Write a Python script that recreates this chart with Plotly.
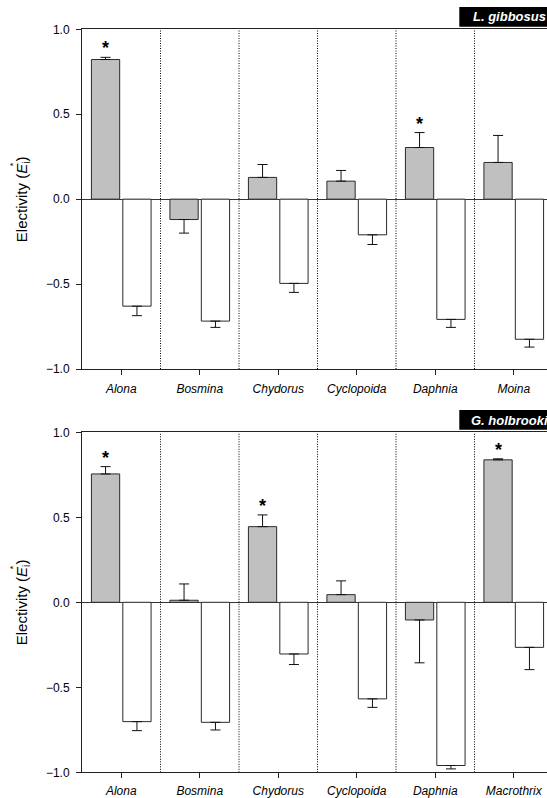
import plotly.graph_objects as go

# ---- data -------------------------------------------------------------
categories_top = ["Alona", "Bosmina", "Chydorus", "Cyclopoida", "Daphnia", "Moina"]
shaded_top = [0.822, -0.120, 0.128, 0.106, 0.304, 0.216]
shaded_top_err = [0.013, 0.080, 0.076, 0.063, 0.088, 0.159]
open_top = [-0.630, -0.718, -0.496, -0.210, -0.708, -0.825]
open_top_err = [0.056, 0.037, 0.053, 0.057, 0.047, 0.046]
shaded_top_sig = [True, False, False, False, True, False]

categories_bottom = ["Alona", "Bosmina", "Chydorus", "Cyclopoida", "Daphnia", "Macrothrix"]
shaded_bottom = [0.755, 0.012, 0.445, 0.045, -0.104, 0.838]
shaded_bottom_err = [0.043, 0.096, 0.069, 0.081, 0.252, 0.006]
open_bottom = [-0.702, -0.706, -0.304, -0.568, -0.960, -0.265]
open_bottom_err = [0.053, 0.045, 0.062, 0.050, 0.020, 0.131]
shaded_bottom_sig = [True, False, True, False, False, True]

panel_titles = ["L. gibbosus", "G. holbrooki"]
y_ticks = [-1.0, -0.5, 0.0, 0.5, 1.0]

# ---- styling ----------------------------------------------------------
FONT = "Liberation Sans, Arial, sans-serif"
W, H = 547, 798
L_MARGIN = 82
PLOT_W = W - L_MARGIN
CAT_PX = 78.5                      # pixel width of one category slot
X_RANGE = [-0.5, -0.5 + PLOT_W / CAT_PX]
GREY = "#c0c0c0"
EDGE = "#2a2a2a"

# vertical pixel extents of the two plot areas (top, bottom)
PANELS = [(29.3, 369.0), (432.3, 772.3)]
X_STANDOFF = [4, 2]


def py2paper(py):
    return 1 - py / H


def px2paper(px):
    return (px - L_MARGIN) / PLOT_W


def one_sided(vals, errs):
    plus = [e if v >= 0 else 0 for v, e in zip(vals, errs)]
    minus = [0 if v >= 0 else e for v, e in zip(vals, errs)]
    return plus, minus


fig = go.Figure()

datasets = [
    (categories_top, shaded_top, shaded_top_err, open_top, open_top_err, shaded_top_sig),
    (categories_bottom, shaded_bottom, shaded_bottom_err, open_bottom, open_bottom_err, shaded_bottom_sig),
]

shapes = []
annotations = []

for k, (cats, sv, se, ov, oe, sig) in enumerate(datasets):
    xa = "x" if k == 0 else f"x{k + 1}"
    ya = "y" if k == 0 else f"y{k + 1}"
    xs = list(range(len(cats)))

    for vals, errs, fill, name in ((sv, se, GREY, "shaded"), (ov, oe, "white", "open")):
        plus, minus = one_sided(vals, errs)
        fig.add_trace(go.Bar(
            x=xs, y=vals, name=name, xaxis=xa, yaxis=ya,
            marker=dict(color=fill, line=dict(color=EDGE, width=1)),
            error_y=dict(type="data", symmetric=False, array=plus, arrayminus=minus,
                         color="#111111", thickness=1, width=5),
            showlegend=False, hoverinfo="skip",
        ))

    # dotted separators between taxa
    for i in range(len(cats) - 1):
        shapes.append(dict(type="line", xref=xa, yref=ya, x0=i + 0.5, x1=i + 0.5,
                           y0=-1, y1=1, line=dict(color="black", width=1, dash="1px,1.5px")))

    # significance asterisks above the shaded bars
    for i, (v, e, s) in enumerate(zip(sv, se, sig)):
        if s:
            annotations.append(dict(xref=xa, yref=ya, x=i - 0.2, y=v + e, text="<b>*</b>",
                                    showarrow=False, yanchor="bottom", yshift=-3,
                                    font=dict(family=FONT, size=18, color="black")))

    top_px, bot_px = PANELS[k]
    # black title tab at the upper right corner
    shapes.append(dict(type="rect", xref="paper", yref="paper",
                       x0=px2paper(459.3), x1=px2paper(W + 10),
                       y0=py2paper(top_px - 2.6), y1=py2paper(top_px - 22.3),
                       fillcolor="black", line=dict(width=0), layer="above"))
    annotations.append(dict(xref="paper", yref="paper", x=px2paper(471 if k == 0 else 469),
                            y=py2paper(top_px - 12.3),
                            xanchor="left", yanchor="middle", showarrow=False,
                            text=f"<b><i>{panel_titles[k]}</i></b>",
                            font=dict(family=FONT, size=13, color="white")))

    # y-axis title, with the asterisk stacked above the subscript
    mid = (top_px + bot_px) / 2
    annotations.append(dict(xref="paper", yref="paper", x=px2paper(22), y=py2paper(mid),
                            xanchor="center", yanchor="middle", showarrow=False, textangle=-90,
                            text="Electivity (<i>E</i><sub>i</sub>)",
                            font=dict(family=FONT, size=15, color="black")))
    annotations.append(dict(xref="paper", yref="paper", x=px2paper(13), y=py2paper(mid - 35),
                            xanchor="center", yanchor="middle", showarrow=False, textangle=-90,
                            text="*", font=dict(family=FONT, size=9, color="black")))

    axis_common = dict(showgrid=False, ticks="outside", ticklen=5, tickwidth=1,
                       tickcolor="#222222", showline=True, linecolor="#222222", linewidth=1,
                       automargin=False)
    x_layout = dict(axis_common, range=X_RANGE, tickmode="array", tickvals=xs,
                    ticktext=cats, tickfont=dict(family=FONT, size=12, color="black", style="italic"),
                    mirror=True, zeroline=False, ticklabelstandoff=X_STANDOFF[k],
                    anchor=ya)
    y_layout = dict(axis_common, range=[-1, 1], tickmode="array", tickvals=y_ticks,
                    tickformat=".1f", tickfont=dict(family=FONT, size=12, color="black"),
                    zeroline=True, zerolinecolor="#333333", zerolinewidth=1,
                    domain=[py2paper(bot_px), py2paper(top_px)], anchor=xa,
                    ticklabelstandoff=4)
    fig.update_layout({("xaxis" if k == 0 else f"xaxis{k + 1}"): x_layout,
                       ("yaxis" if k == 0 else f"yaxis{k + 1}"): y_layout})

fig.update_layout(
    width=W, height=H,
    margin=dict(l=L_MARGIN, r=0, t=0, b=0, pad=0),
    paper_bgcolor="white", plot_bgcolor="white",
    barmode="group", bargap=0.2, bargroupgap=0.1,
    font=dict(family=FONT, color="black"),
    shapes=shapes, annotations=annotations,
)

fig.write_html("out.html")
